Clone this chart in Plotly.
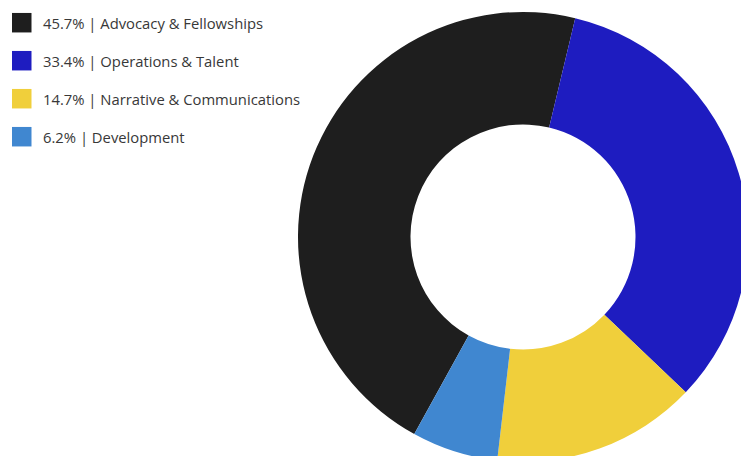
import plotly.graph_objects as go

categories = ["Advocacy & Fellowships", "Operations & Talent", "Narrative & Communications", "Development"]
values = [45.7, 33.4, 14.7, 6.2]
colors = ["#1e1e1e", "#1e1cc0", "#f0cf3b", "#4087d0"]

# figure a bit larger than the 741x456 window; the page margin is removed
# so the donut can run off the right/bottom edge like in the reference
W, H = 750, 466

# donut geometry (pixels from top-left)
cx, cy_c, R = 523, 237, 225

fig = go.Figure()
fig.add_trace(go.Pie(
    labels=categories,
    values=values,
    marker=dict(colors=colors, line=dict(width=0)),
    hole=0.5,
    sort=False,
    direction="clockwise",
    rotation=-151.1,
    textinfo="none",
    showlegend=False,
    domain=dict(x=[(cx - R) / W, (cx + R) / W],
                y=[1 - (cy_c + R) / H, 1 - (cy_c - R) / H]),
))

# legend drawn as swatches + text
y0, step, sq = 22.7, 38.0, 19.5
sx, tx = 12, 41
shapes, annotations = [], []
for i, (cat, val, col) in enumerate(zip(categories, values, colors)):
    cy = y0 + i * step
    shapes.append(dict(type="rect", xref="paper", yref="paper",
                       x0=sx / W, x1=(sx + sq) / W,
                       y0=1 - (cy - sq / 2) / H, y1=1 - (cy + sq / 2) / H,
                       fillcolor=col, line=dict(width=0)))
    annotations.append(dict(xref="paper", yref="paper", x=tx / W, y=1 - cy / H,
                            xanchor="left", yanchor="middle", showarrow=False,
                            text=f"{val:.1f}% | {cat}",
                            font=dict(family="Open Sans", size=14.8, color="#383838")))

fig.update_layout(
    width=W, height=H,
    margin=dict(l=0, r=0, t=0, b=0),
    paper_bgcolor="white", plot_bgcolor="white",
    shapes=shapes, annotations=annotations,
)
fig.write_html(
    "out.html",
    config={"displayModeBar": False},
    post_script="document.body.style.margin='0';document.body.style.overflow='hidden';",
)
